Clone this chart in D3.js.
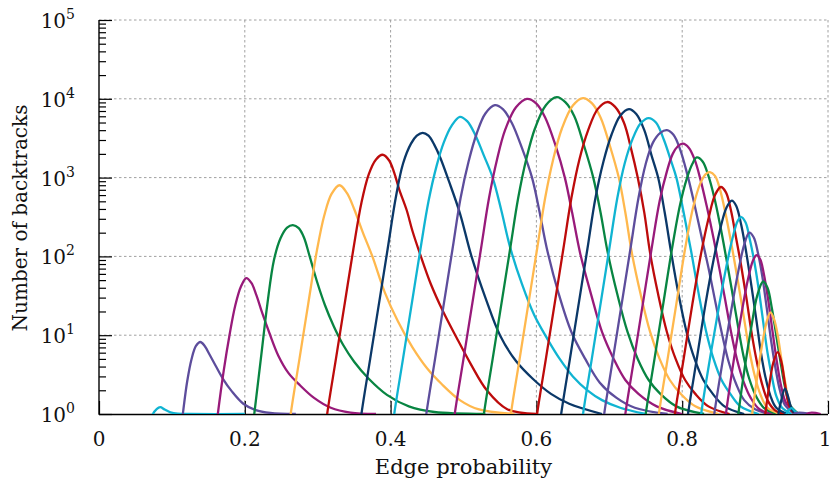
<!DOCTYPE html>
<meta charset="utf-8">
<style>
body { margin: 0; background: #fff; }
text { font-family: "DejaVu Serif", serif; fill: #111; }
.grid line { stroke: #a0a0a0; stroke-width: 1; stroke-dasharray: 2.5,2.5; }
.curve { fill: none; stroke-width: 2.3; stroke-linejoin: round; }
</style>
<body>
<script src="https://d3js.org/d3.v7.min.js"></script>
<script>

// tick labels
var xTicks = [0, 0.2, 0.4, 0.6, 0.8, 1];
var xTickLabels = ["0", "0.2", "0.4", "0.6", "0.8", "1"];
var yExponents = [0, 1, 2, 3, 4, 5];

// colour of each curve, left to right
var curveColor = ["#10b4d2", "#5d4d9c", "#981a7a", "#088542", "#ffb84d", "#bd0b0b", "#0b3868",
                  "#10b4d2", "#5d4d9c", "#981a7a", "#088542", "#ffb84d", "#bd0b0b", "#0b3868",
                  "#10b4d2", "#5d4d9c", "#981a7a", "#088542", "#ffb84d", "#bd0b0b", "#0b3868",
                  "#10b4d2", "#5d4d9c", "#981a7a", "#088542", "#ffb84d", "#bd0b0b", "#0b3868",
                  "#10b4d2", "#5d4d9c", "#981a7a"];

// edge probability of each point
var curveX = [
  [0.071,0.074,0.079,0.084,0.09,0.098,0.108,0.125,0.2],
  [0.11,0.115,0.121,0.127,0.133,0.139,0.145,0.152,0.16,0.17,0.182,0.198,0.215,0.235,0.27],
  [0.158,0.163,0.171,0.179,0.187,0.195,0.202,0.209,0.216,0.224,0.234,0.246,0.26,0.276,0.295,0.318,0.345,0.38],
  [0.208,0.213,0.222,0.231,0.24,0.249,0.258,0.266,0.274,0.281,0.289,0.299,0.31,0.322,0.335,0.35,0.37,0.395,0.425,0.46,0.53],
  [0.258,0.263,0.275,0.287,0.299,0.309,0.319,0.33,0.34,0.35,0.362,0.375,0.392,0.41,0.43,0.45,0.47,0.495,0.52,0.57],
  [0.308,0.313,0.325,0.337,0.349,0.36,0.37,0.38,0.389,0.398,0.405,0.412,0.422,0.43,0.44,0.455,0.472,0.49,0.51,0.532,0.56,0.6],
  [0.355,0.36,0.372,0.384,0.396,0.407,0.417,0.428,0.436,0.444,0.452,0.46,0.468,0.48,0.495,0.511,0.53,0.55,0.572,0.595,0.62,0.645,0.69],
  [0.4,0.405,0.417,0.429,0.441,0.452,0.463,0.473,0.484,0.495,0.505,0.516,0.528,0.54,0.552,0.564,0.58,0.597,0.615,0.632,0.65,0.67,0.69,0.715,0.75],
  [0.444,0.449,0.461,0.473,0.485,0.496,0.507,0.518,0.53,0.543,0.554,0.566,0.58,0.594,0.604,0.614,0.63,0.648,0.667,0.687,0.71,0.735,0.78],
  [0.483,0.488,0.5,0.512,0.524,0.535,0.546,0.557,0.572,0.587,0.6,0.612,0.626,0.639,0.649,0.66,0.675,0.69,0.706,0.722,0.74,0.765,0.8],
  [0.523,0.528,0.54,0.552,0.564,0.575,0.586,0.598,0.613,0.628,0.64,0.652,0.665,0.678,0.688,0.698,0.711,0.725,0.739,0.754,0.77,0.792,0.83],
  [0.56,0.565,0.577,0.589,0.601,0.612,0.623,0.635,0.65,0.664,0.676,0.688,0.701,0.713,0.722,0.731,0.743,0.756,0.769,0.783,0.798,0.818,0.85],
  [0.596,0.601,0.613,0.625,0.637,0.648,0.659,0.671,0.684,0.697,0.708,0.72,0.73,0.739,0.748,0.756,0.767,0.779,0.791,0.804,0.818,0.836,0.865],
  [0.629,0.634,0.646,0.658,0.67,0.681,0.692,0.703,0.715,0.727,0.737,0.748,0.758,0.767,0.776,0.785,0.795,0.806,0.817,0.829,0.842,0.858,0.885],
  [0.659,0.664,0.676,0.688,0.7,0.711,0.721,0.732,0.743,0.754,0.764,0.775,0.784,0.792,0.802,0.812,0.822,0.833,0.843,0.854,0.866,0.88,0.905],
  [0.688,0.693,0.705,0.717,0.729,0.74,0.75,0.76,0.77,0.779,0.788,0.797,0.807,0.817,0.827,0.837,0.846,0.855,0.864,0.874,0.885,0.9,0.92],
  [0.717,0.722,0.734,0.746,0.758,0.769,0.779,0.787,0.794,0.801,0.809,0.817,0.825,0.834,0.843,0.851,0.859,0.867,0.875,0.884,0.894,0.906,0.925],
  [0.745,0.75,0.762,0.774,0.786,0.797,0.806,0.814,0.82,0.828,0.836,0.844,0.852,0.86,0.868,0.876,0.884,0.892,0.901,0.912,0.93],
  [0.763,0.768,0.78,0.792,0.804,0.815,0.825,0.832,0.838,0.845,0.852,0.86,0.869,0.877,0.885,0.892,0.899,0.907,0.917,0.935],
  [0.785,0.79,0.802,0.814,0.826,0.836,0.845,0.853,0.86,0.867,0.874,0.881,0.888,0.895,0.902,0.909,0.917,0.927,0.94],
  [0.803,0.808,0.82,0.832,0.843,0.853,0.861,0.868,0.874,0.881,0.888,0.895,0.902,0.908,0.914,0.921,0.929,0.945],
  [0.821,0.826,0.838,0.85,0.86,0.869,0.876,0.881,0.887,0.893,0.899,0.905,0.911,0.917,0.923,0.929,0.937,0.95],
  [0.839,0.844,0.856,0.867,0.877,0.885,0.892,0.898,0.904,0.91,0.916,0.922,0.928,0.934,0.941,0.955],
  [0.855,0.86,0.871,0.881,0.89,0.897,0.902,0.907,0.912,0.918,0.924,0.93,0.936,0.943,0.958],
  [0.872,0.877,0.886,0.895,0.903,0.911,0.917,0.923,0.929,0.935,0.941,0.948,0.96],
  [0.891,0.896,0.904,0.911,0.916,0.921,0.926,0.931,0.936,0.941,0.946,0.952,0.962],
  [0.909,0.914,0.92,0.925,0.931,0.936,0.941,0.946,0.952,0.96],
  [0.929,0.932,0.936,0.941,0.945,0.949,0.954,0.96],
  [0.94,0.943,0.946,0.95,0.954,0.958,0.965],
  [0.95,0.953,0.975],
  [0.968,0.971,0.99]
];

// number of backtracks at each point
var curveV = [
  [0.4,1,1.15,1.22,1.14,1.05,1.01,1,1],
  [0.4,1,2.6,5,7.3,8.2,7.3,5.6,4.1,2.8,1.95,1.35,1.12,1.03,1],
  [0.4,1,3.5,10,24,42,53,46,32,19,10.5,5.5,3.3,2.3,1.6,1.2,1.04,1],
  [0.4,1,5,25,90,170,232,250,228,175,100,48,24,13,7.5,4.6,2.8,1.75,1.25,1.06,1],
  [0.4,1,5,25,120,330,620,800,640,400,200,100,35,15,7,3.8,2.4,1.5,1.15,1],
  [0.4,1,5,25,125,480,1100,1700,1950,1650,1150,700,388,210,110,45,20,9.5,4.3,2,1.15,1],
  [0.4,1,5,25,125,550,1500,2700,3400,3700,3400,2600,1800,900,355,100,30,10,4.7,2.8,1.8,1.35,1],
  [0.4,1,5,25,125,500,1400,2800,4600,5900,5200,3500,1900,1000,380,130,45,18,9,5,3,2,1.5,1.2,1],
  [0.4,1,5,25,125,550,1600,3600,6500,8300,7400,5000,2400,1000,380,130,35,11,5,2.5,1.6,1.2,1],
  [0.4,1,5,25,125,550,1700,4000,7800,10000,8700,5800,2600,1000,360,110,33,11,5,2.7,1.8,1.25,1],
  [0.4,1,5,25,125,550,1700,4200,8300,10500,9000,6000,2600,1000,360,110,33,11,5,2.7,1.8,1.25,1],
  [0.4,1,5,25,125,550,1700,4200,8200,10200,8800,5800,2500,1000,360,110,33,11,5,2.7,1.8,1.25,1],
  [0.4,1,5,25,125,550,1700,4000,7400,9100,7900,5000,2300,1000,360,110,33,11,5,2.7,1.8,1.25,1],
  [0.4,1,5,25,125,550,1600,3500,6100,7400,6400,4000,1900,1000,360,110,33,11,5,2.7,1.8,1.25,1],
  [0.4,1,5,25,125,550,1500,3100,4900,5700,5000,3000,1700,1000,360,120,36,11,5,2.7,1.8,1.25,1],
  [0.4,1,5,25,125,550,1500,2800,3700,4000,3500,2300,1100,450,170,65,25,10,4.5,2.4,1.5,1.15,1],
  [0.4,1,5,25,125,500,1200,2000,2500,2700,2400,1700,950,420,170,70,28,11,5,2.6,1.6,1.15,1],
  [0.4,1,5,25,125,450,950,1500,1800,1600,1050,560,250,100,38,14,5.5,2.8,1.7,1.2,1],
  [0.4,1,5,25,125,420,850,1100,1170,1050,700,330,120,45,16,6.5,3.2,1.8,1.2,1],
  [0.4,1,5,25,110,300,600,760,650,380,170,75,30,11,4.8,2.5,1.5,1.12,1],
  [0.4,1,5,25,90,240,420,510,440,250,110,42,15,6,3,1.7,1.2,1],
  [0.4,1,5,22,70,170,280,316,270,160,85,38,15,6,3,1.7,1.2,1],
  [0.4,1,5,20,65,140,200,175,110,55,22,8.5,3.8,2,1.3,1],
  [0.4,1,5,18,50,88,104,92,60,28,11,4.5,2.2,1.35,1],
  [0.4,1,4,13,32,48,40,22,10,4.5,2.2,1.3,1],
  [0.4,1,3.5,9,15,19.5,16,10,5,2.6,1.5,1.1,1],
  [0.4,1,2.5,4.5,6.1,4.6,2.4,1.35,1.05,1],
  [0.4,1,1.5,2.1,1.7,1.25,1.03,1],
  [0.4,1,1.12,1.19,1.1,1.02,1],
  [0.4,1,1],
  [0.4,1,1]
];

var margin = {top: 20, right: 4, bottom: 72, left: 99},
    width = 832 - margin.left - margin.right,
    height = 486 - margin.top - margin.bottom;

var x = d3.scaleLinear().domain([0, 1]).range([0, width]);
var y = d3.scaleLog().domain([1, 1e5]).range([height, 0]);

var svg = d3.select("body").append("svg")
    .attr("width", 832)
    .attr("height", 486)
  .append("g")
    .attr("transform", "translate(" + margin.left + "," + margin.top + ")");

// dashed grid
var grid = svg.append("g").attr("class", "grid");
grid.selectAll(".gx").data(xTicks.slice(1)).enter().append("line")
    .attr("x1", function(d) { return x(d); }).attr("x2", function(d) { return x(d); })
    .attr("y1", 0).attr("y2", height);
grid.selectAll(".gy").data(yExponents.slice(1)).enter().append("line")
    .attr("x1", 0).attr("x2", width)
    .attr("y1", function(d) { return y(Math.pow(10, d)); })
    .attr("y2", function(d) { return y(Math.pow(10, d)); });

// inward ticks
var majorY = yExponents.map(function(e) { return Math.pow(10, e); });
var minorY = [];
yExponents.slice(0, -1).forEach(function(e) {
  for (var k = 2; k < 10; k++) minorY.push(k * Math.pow(10, e));
});

function blackTicks(g) {
  g.select(".domain").remove();
  g.selectAll("line").attr("stroke", "#000").attr("stroke-width", 1.2);
}

svg.append("g").call(d3.axisLeft(y).tickValues(majorY).tickSize(-13).tickFormat("")).call(blackTicks);
svg.append("g").call(d3.axisLeft(y).tickValues(minorY).tickSize(-7).tickFormat("")).call(blackTicks);
svg.append("g").attr("transform", "translate(0," + height + ")")
    .call(d3.axisBottom(x).tickValues(xTicks).tickSize(-13).tickFormat("")).call(blackTicks);

// axis lines
svg.append("line").attr("x1", 0).attr("x2", 0).attr("y1", 0).attr("y2", height + 0.7)
    .attr("stroke", "#000").attr("stroke-width", 1.4);
svg.append("line").attr("x1", 0).attr("x2", width).attr("y1", height + 0.5).attr("y2", height + 0.5)
    .attr("stroke", "#000").attr("stroke-width", 1.4);

// curves
svg.append("clipPath").attr("id", "clip")
  .append("rect").attr("x", 0).attr("y", -5).attr("width", width + 4).attr("height", height + 5);

var line = d3.line()
    .x(function(d) { return x(d[0]); })
    .y(function(d) { return y(d[1]); })
    .curve(d3.curveCatmullRom.alpha(0.5));

var curves = curveX.map(function(xs, i) {
  return xs.map(function(v, j) { return [v, curveV[i][j]]; });
});

svg.append("g").attr("clip-path", "url(#clip)")
  .selectAll("path").data(curves).enter().append("path")
    .attr("class", "curve")
    .attr("stroke", function(d, i) { return curveColor[i]; })
    .attr("d", line);

// tick labels
svg.selectAll(".xl").data(xTicks).enter().append("text")
    .attr("x", function(d) { return d === 1 ? x(d) - 3 : x(d); })
    .attr("y", height + 31.5)
    .attr("text-anchor", "middle")
    .style("font-size", "20px")
    .text(function(d, i) { return xTickLabels[i]; });

var yl = svg.selectAll(".yl").data(yExponents).enter().append("text")
    .attr("x", -24)
    .attr("y", function(d) { return y(Math.pow(10, d)) + 8; })
    .attr("text-anchor", "end")
    .style("font-size", "20px");
yl.append("tspan").text("10");
yl.append("tspan").attr("dy", -9).style("font-size", "14px").text(function(d) { return d; });

// axis titles
svg.append("text")
    .attr("x", width / 2)
    .attr("y", height + 60)
    .attr("text-anchor", "middle")
    .style("font-size", "21px")
    .text("Edge probability");

svg.append("text")
    .attr("transform", "translate(" + (27 - margin.left) + "," + 198 + ") rotate(-90)")
    .attr("text-anchor", "middle")
    .style("font-size", "20px")
    .text("Number of backtracks");

</script>
</body>
